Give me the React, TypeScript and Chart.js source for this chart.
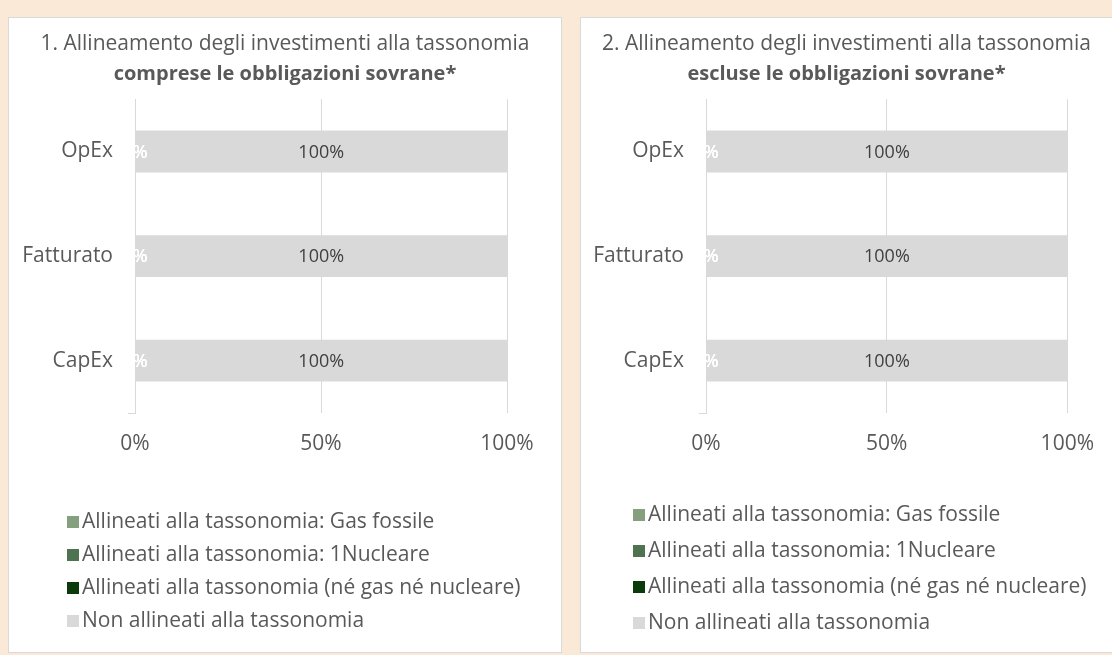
import React, { useEffect, useRef } from 'react';
import { Chart, registerables } from 'chart.js';

Chart.register(...registerables);

const FONT = '"Open Sans", Lato, sans-serif';

const categories = ['OpEx', 'Fatturato', 'CapEx'];
const seriesLabels = [
  'Allineati alla tassonomia: Gas fossile',
  'Allineati alla tassonomia: 1Nucleare',
  'Allineati alla tassonomia (né gas né nucleare)',
  'Non allineati alla tassonomia',
];
const seriesColors = ['#84A07F', '#4E7350', '#0B3A0B', '#D9D9D9'];
const xTickStep = 50;
const xMin = 0;
const xMax = 100;

// Chart 1: comprese le obbligazioni sovrane
const title1 = '1. Allineamento degli investimenti alla tassonomia';
const subtitle1 = 'comprese le obbligazioni sovrane*';
const gasFossile1 = [0, 0, 0];
const nucleare1 = [0, 0, 0];
const neGasNeNucleare1 = [0, 0, 0];
const nonAllineati1 = [100, 100, 100];

// Chart 2: escluse le obbligazioni sovrane
const title2 = '2. Allineamento degli investimenti alla tassonomia';
const subtitle2 = 'escluse le obbligazioni sovrane*';
const gasFossile2 = [0, 0, 0];
const nucleare2 = [0, 0, 0];
const neGasNeNucleare2 = [0, 0, 0];
const nonAllineati2 = [100, 100, 100];

const TEXT = '#595959';

const dataLabelPlugin = {
  id: 'dataLabelsCustom',
  afterDatasetsDraw(chart: any) {
    const ctx = chart.ctx;
    ctx.save();
    ctx.font = `18px ${FONT}`;
    ctx.textAlign = 'center';
    ctx.textBaseline = 'middle';
    chart.data.datasets.forEach((ds: any, di: number) => {
      const meta = chart.getDatasetMeta(di);
      meta.data.forEach((el: any, i: number) => {
        const v = ds.data[i];
        const p = el.getProps(['x', 'y', 'base'], true);
        const cx = (p.x + p.base) / 2;
        ctx.fillStyle = v === 0 ? '#FFFFFF' : '#404040';
        ctx.fillText(`${v}%`, cx, p.y + 1);
      });
    });
    ctx.restore();
  },
};

const cornerTickPlugin = {
  id: 'cornerTick',
  afterDraw(chart: any) {
    const { ctx, chartArea } = chart;
    ctx.save();
    ctx.strokeStyle = '#D9D9D9';
    ctx.lineWidth = 1;
    ctx.beginPath();
    ctx.moveTo(chartArea.left - 7, Math.round(chartArea.bottom) + 0.5);
    ctx.lineTo(chartArea.left + 0.5, Math.round(chartArea.bottom) + 0.5);
    ctx.stroke();
    ctx.restore();
  },
};

function makeLegendPlugin(boxX: number, firstY: number, rowGap: number) {
  return {
    id: 'customLegend',
    afterDraw(chart: any) {
      const ctx = chart.ctx;
      ctx.save();
      ctx.font = `21px ${FONT}`;
      ctx.textAlign = 'left';
      ctx.textBaseline = 'middle';
      chart.data.datasets.forEach((ds: any, i: number) => {
        const y = firstY + i * rowGap;
        ctx.fillStyle = ds.backgroundColor;
        ctx.fillRect(boxX, y - 5, 12, 12);
        ctx.fillStyle = TEXT;
        ctx.fillText(ds.label, boxX + 15, y + 1);
      });
      ctx.restore();
    },
  };
}

type PanelProps = {
  left: number;
  width: number;
  title: string;
  subtitle: string;
  series: number[][];
  rightPad: number;
  yAxisWidth: number;
  legendX: number;
  legendY: number;
  legendGap: number;
};

function Panel(props: PanelProps) {
  const ref = useRef<HTMLCanvasElement>(null);
  useEffect(() => {
    const chart = new Chart(ref.current as HTMLCanvasElement, {
      type: 'bar',
      data: {
        labels: categories,
        datasets: props.series.map((d, i) => ({
          label: seriesLabels[i],
          data: d,
          backgroundColor: seriesColors[i],
          borderWidth: 0,
          barPercentage: 0.4,
          categoryPercentage: 1,
          xAxisID: 'x',
          yAxisID: 'y',
        })),
      },
      options: {
        indexAxis: 'y',
        animation: false,
        responsive: true,
        maintainAspectRatio: false,
        layout: { padding: { top: 0, left: 0, right: 0, bottom: 179 } },
        plugins: {
          legend: { display: false },
          tooltip: { enabled: false },
          title: {
            display: true,
            text: props.title,
            color: TEXT,
            font: { family: FONT, size: 21, weight: 'normal', lineHeight: 1.2 },
            padding: { top: 13, bottom: 0 },
          },
          subtitle: {
            display: true,
            text: props.subtitle,
            color: TEXT,
            font: { family: FONT, size: 20, weight: 'bold', lineHeight: 1.2 },
            padding: { top: 6, bottom: 13 },
          },
        },
        scales: {
          x: {
            stacked: true,
            min: xMin,
            max: xMax,
            ticks: {
              stepSize: xTickStep,
              color: TEXT,
              font: { family: FONT, size: 21 },
              padding: 18,
              callback: (v: any) => `${v}%`,
            },
            grid: { color: '#D9D9D9', drawTicks: false, lineWidth: 1 },
            border: { display: false },
            afterFit: (s: any) => {
              s.height = 60;
            },
          },
          y: {
            stacked: true,
            ticks: {
              color: TEXT,
              font: { family: FONT, size: 21 },
              padding: 22,
            },
            grid: { display: false, drawTicks: false },
            border: { display: true, color: '#D9D9D9' },
            afterFit: (s: any) => {
              s.width = props.yAxisWidth;
            },
          },
          yRight: {
            type: 'category',
            axis: 'y',
            position: 'right',
            display: true,
            ticks: { display: false },
            grid: { display: false, drawTicks: false },
            border: { display: false },
            afterFit: (s: any) => {
              s.width = props.rightPad;
            },
          },
        },
      },
      plugins: [dataLabelPlugin, cornerTickPlugin, makeLegendPlugin(props.legendX, props.legendY, props.legendGap)],
    } as any);
    return () => chart.destroy();
  }, []);
  return (
    <div
      style={{
        position: 'absolute',
        left: props.left,
        top: 17,
        width: props.width,
        height: 636,
        background: '#FFFFFF',
        border: '1px solid #D9D9D9',
        boxSizing: 'border-box',
      }}
    >
      <div style={{ position: 'relative', width: '100%', height: '100%' }}>
        <canvas ref={ref} />
      </div>
    </div>
  );
}

export default function App() {
  return (
    <div
      style={{
        position: 'fixed',
        left: 0,
        top: 0,
        width: 1112,
        height: 655,
        overflow: 'hidden',
        background: '#FBE9D8',
      }}
    >
      <Panel
        left={8}
        width={554}
        title={title1}
        subtitle={subtitle1}
        series={[gasFossile1, nucleare1, neGasNeNucleare1, nonAllineati1]}
        rightPad={54}
        yAxisWidth={126}
        legendX={58}
        legendY={503}
        legendGap={33}
      />
      <Panel
        left={580}
        width={533}
        title={title2}
        subtitle={subtitle2}
        series={[gasFossile2, nucleare2, neGasNeNucleare2, nonAllineati2]}
        rightPad={43}
        yAxisWidth={125}
        legendX={52}
        legendY={496}
        legendGap={36}
      />
    </div>
  );
}
